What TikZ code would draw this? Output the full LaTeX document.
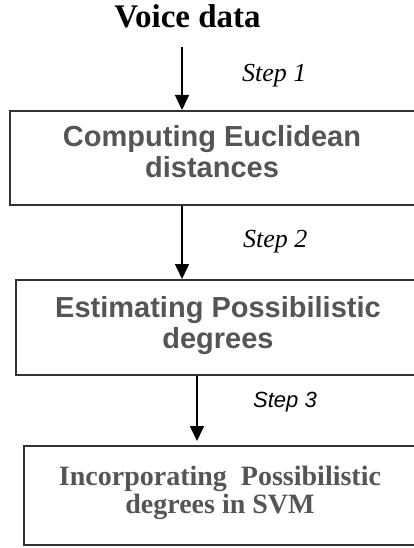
\documentclass[tikz,border=0pt]{standalone}
\usepackage{fontspec}
\setmainfont{Liberation Serif}
\newfontfamily\arialf{Liberation Sans}
\usetikzlibrary{arrows.meta}
\definecolor{boxgray}{HTML}{333333}
\definecolor{textgray}{HTML}{555555}
\tikzset{
  stagebox/.style={draw=boxgray, line width=2pt, inner sep=0pt, anchor=north west},
  sanslabel/.style={text=textgray, align=center, inner sep=0pt,
    font=\arialf\bfseries\fontsize{29}{31}\selectfont},
  seriflabel/.style={text=textgray, align=center, inner sep=0pt,
    font=\bfseries\fontsize{28}{28}\selectfont},
  steplabel/.style={anchor=base west, inner sep=0pt},
  flow/.style={line width=1.5pt, -{Triangle[width=14pt,length=15pt]}}
}
\begin{document}
\begin{tikzpicture}[x=1pt,y=1pt]
\useasboundingbox (0,0) rectangle (413,-548);

% input
\node[anchor=base, inner sep=0pt, font=\bfseries\fontsize{33}{33}\selectfont] (voice) at (187.5,-28) {Voice data};

% processing stages
\node[stagebox, minimum width=406pt, minimum height=94pt] (b1) at (9,-110) {};
\node[stagebox, minimum width=405pt, minimum height=95pt] (b2) at (15,-279) {};
\node[stagebox, minimum width=394pt, minimum height=99pt] (b3) at (23,-445) {};

\node[sanslabel] (t1) at (212,-151.5) {Computing Euclidean\\distances};
\node[sanslabel] (t2) at (218,-326) {Estimating Possibilistic\\degrees};
\node[seriflabel] (t3) at (220,-493) {Incorporating\ \ Possibilistic\\degrees in SVM};

% step labels
\node[steplabel, font=\itshape\fontsize{26}{26}\selectfont] (l1) at (242,-82) {Step 1};
\node[steplabel, font=\itshape\fontsize{26}{26}\selectfont] (l2) at (243,-247) {Step 2};
\node[steplabel, font=\arialf\itshape\fontsize{22}{22}\selectfont] (l3) at (253,-407) {Step 3};

% connectors
\coordinate (s1) at (182,-47);
\coordinate (s3) at (197,-441);
\draw[flow] (s1) -- (s1 |- b1.north);
\draw[flow] (s1 |- b1.south) -- (s1 |- b2.north);
\draw[flow] (s3 |- b2.south) -- (s3);
\end{tikzpicture}
\end{document}
